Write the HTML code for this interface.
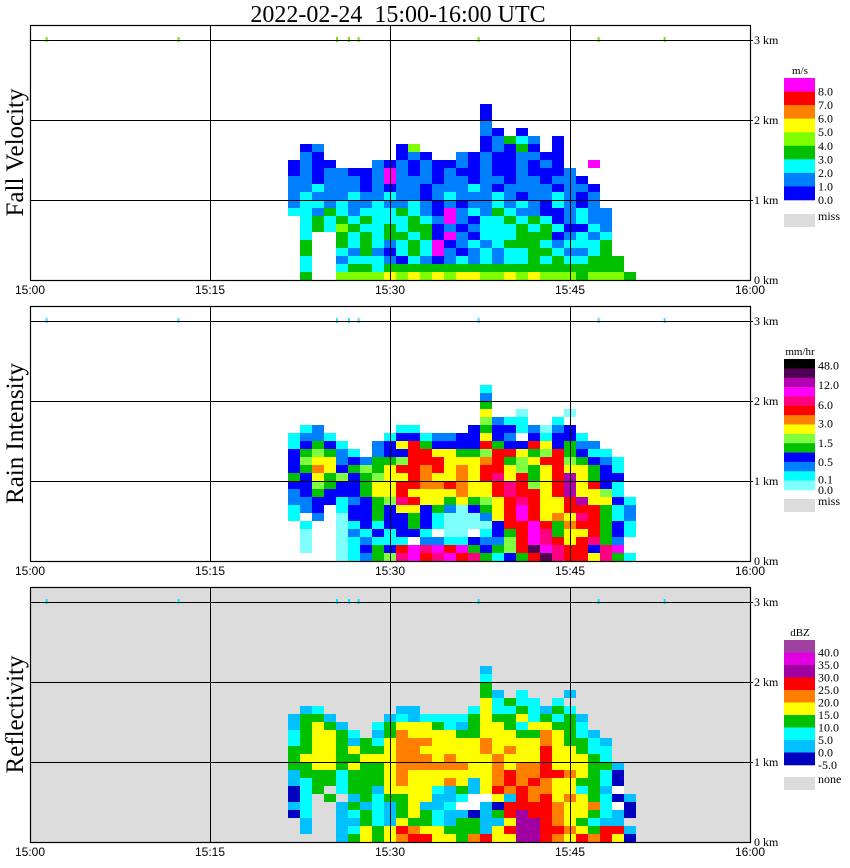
<!DOCTYPE html>
<html><head><meta charset="utf-8"><style>
html,body{margin:0;padding:0;background:#fff;}
svg{display:block;}
text{font-family:"Liberation Serif",serif;fill:#000;}
.sans{font-family:"Liberation Sans",sans-serif;}
</style></head><body>
<svg id="chart" width="850" height="868" viewBox="0 0 850 868" xmlns="http://www.w3.org/2000/svg">
<text x="398" y="22" font-size="24" text-anchor="middle" xml:space="preserve" style="white-space:pre">2022-02-24  15:00-16:00 UTC</text>
<g id="layer"></g>
</svg>
<script>
// ---- data ----
const startMinute = 21.5;        // first data column (minutes after 15:00)
const colMinutes = 1;            // width of one data column (minutes)
const rowKm = 0.1;               // height of one data row (km)
const kmTicks = [0,1,2,3];
const timeTickLabels = ["15:00","15:15","15:30","15:45","16:00"];
const timeTicks = [0,15,30,45,60];
const clutterMinutes = [1.3,12.3,25.5,26.5,27.3,37.3,47.3,52.8];

const fallVelocityRows = [
"                b            ",
"                b            ",
"                a            ",
"                ab b         ",
"                bagca b      ",
" ba      bl     babgb b      ",
" ab      bab  ababbaabb      ",
"babb   abababbababbabab  m   ",
"babaabbamabababbabbabbba     ",
"aabaaabamaaabaabaabaabaab    ",
"aacaaababaabaaacabaaaabaab   ",
"acaaacaacaabacaaacabaacaba   ",
"accacaacaacababaacacabcaba   ",
"ccagcacccgcabmacagcaabbacaa  ",
" cgcgcgcccgcamabccgcgcbacaa  ",
" cgclgccgcggbabacccgcgcbbca  ",
" c  gcgcggcgbmabcccgggbacac  ",
" g  gcgcacgcmbacacgggcacccg  ",
" g  cagabcgcmabacaccggcaacg  ",
" c  acccabcabacacaccgcgccggg ",
" c  cggcgggggggggggggggggggg ",
" g  llllylylylyyllylylllglllg"
];
const rainRows = [
"                c            ",
"                a            ",
"                g            ",
"                y  e   e     ",
"                lacc  c      ",
" ca      cc    bgbbcaeab     ",
"caac    cbbcaabbyba bcbbc    ",
"cbgbc  abyrgbbbbrgbbrybgaa   ",
"bglgac abbrryygglrryglrgbcc  ",
"blyyabagglrrryyyorglyrrlgbac ",
"bgoybglgyrroryoyrrylgyryygbc ",
"gbyglbglyyroyyoyrsyrgyrpygbb ",
"bblgbbgyyrrooroyyrsrlyrpyrbc ",
"abgbbbgyyryyyyoyyrsrryrpyylc ",
"aabbcabglsryygyglyrsryyrpyybc",
"cab cbbgbyybgaebgyrmryyrrrgca",
"c a ebbgbbgbceeeayrmryoysrgca",
" c  ecbcbbgbceeeebrrmrgorrgbc",
" e  eacbcbbc ee cbgrmsgyyrgbc",
" e  ecaccc aaccbaalrmsryrsga ",
" e  ecbgbrmsmrmgbglrdmsrrbsm ",
"    ecaglsmrsmrsgcbgrdsrrysgc"
];
const reflectivityRows = [
"                s            ",
"                c            ",
"                g            ",
"                gs c   s     ",
"                ycgcc c      ",
" sc      ss    cyccgcsgc     ",
"sggs    scsccccgyggycgcgs    ",
"sgygs  cgyyygcsgyygcyyggc    ",
"cgyygc sgoyyyyggyyyggoygcs   ",
"cgyygsgcyoooyyyyoyyyyoyggcs  ",
"ggyygyggyooyyyyyoyoyyryygcc  ",
"gyyyggyyyoooyoyyyoyyyryyygc  ",
"ggyygyggyooooooyyoyooryyyggs ",
"sgggcgggyoyyyyyyyoroorroygcn ",
"scggcgggyoyyyoysyororoyyggcn ",
"ncg cggsyyyycsgsyrorooyycgsw ",
"nc g sgcggyysscwwysroryoygcns",
"sc  sgscsgysscwwsnrrrroyyocwn",
"nc  scgcsgygcssnsgrprroyygcsn",
" s  ssgcsyggcsggssypproygcss ",
" s  scygyroyygggsyrpprroygrrs",
"    sgygyorryygoryypproyroryn"
];

const fvLegendLabels = ["8.0","7.0","6.0","5.0","4.0","3.0","2.0","1.0","0.0"];
const rainLegendLabels = ["48.0","12.0","6.0","3.0","1.5","0.5","0.1","0.0"];
const dbzLegendLabels = ["40.0","35.0","30.0","25.0","20.0","15.0","10.0","5.0","0.0","-5.0"];

// ---- styles ----
const fvColors = {m:"#ff00ff",r:"#ff0000",o:"#ff8000",y:"#ffff00",l:"#80ff00",g:"#00c000",c:"#00ffff",a:"#0080ff",b:"#0000ff"};
const fvLegend = ["#ff00ff","#ff0000","#ff8000","#ffff00","#80ff00","#00c000","#00ffff","#0080ff","#0000ff"];
const rainColors = {k:"#000000",d:"#500050",p:"#b000b0",m:"#ff00ff",s:"#ff0080",r:"#ff0000",o:"#ff8000",y:"#ffff00",l:"#80ff40",g:"#00c000",b:"#0000ff",a:"#0080ff",c:"#00ffff",e:"#80ffff"};
const rainLegend = ["#000000","#500050","#b000b0","#ff00ff","#ff0080","#ff0000","#ff8000","#ffff00","#80ff40","#00c000","#0000ff","#0080ff","#00ffff","#80ffff"];
const dbzColors = {v:"#a040a0",m:"#e000e0",p:"#a000a0",r:"#ff0000",o:"#ff8000",y:"#ffff00",g:"#00c000",c:"#00ffff",s:"#00c0ff",n:"#0000c0",w:"#ffffff"};
const dbzLegend = ["#a040a0","#e000e0","#a000a0","#ff0000","#ff8000","#ffff00","#00c000","#00ffff","#00c0ff","#0000c0"];

const NS="http://www.w3.org/2000/svg";
const layer=document.getElementById('layer');
const X0=30, X1=750;
function xScale(min){return X0+(X1-X0)*min/60;}
function mk(tag,attrs,parent){const e=document.createElementNS(NS,tag);for(const k in attrs)e.setAttribute(k,attrs[k]);(parent||layer).appendChild(e);return e;}

const panels=[
 {name:"fall-velocity",title:"Fall Velocity",top:25,bottom:280,bg:"#ffffff",rows:fallVelocityRows,colors:fvColors,clutter:"#80e000",
  legend:{unit:"m/s",colors:fvLegend,labels:fvLegendLabels,top:78,bottom:200,missTop:214,missLabel:"miss",labelIdx:[1,2,3,4,5,6,7,8,9]}},
 {name:"rain-intensity",title:"Rain Intensity",top:306,bottom:561,bg:"#ffffff",rows:rainRows,colors:rainColors,clutter:"#40e0ff",
  legend:{unit:"mm/hr",colors:rainLegend,labels:rainLegendLabels,top:359,bottom:490,missTop:499,missLabel:"miss",labelIdx:[0.7,2.8,4.9,6.9,9,11,12.9,14]}},
 {name:"reflectivity",title:"Reflectivity",top:587,bottom:842,bg:"#dcdcdc",rows:reflectivityRows,colors:dbzColors,clutter:"#00e0ff",
  legend:{unit:"dBZ",colors:dbzLegend,labels:dbzLegendLabels,top:640,bottom:765,missTop:777,missLabel:"none",labelIdx:[1,2,3,4,5,6,7,8,9,10]}}
];

panels.forEach(p=>{
  const g=mk('g',{});
  
  
  const yScale=km=>p.bottom-80*km;
  const bg=mk('rect',{x:X0,y:p.top,width:X1-X0,height:p.bottom-p.top,fill:p.bg},g);
  
  
  const nRows=p.rows.length;
  p.rows.forEach((row,ri)=>{
    const r=nRows-1-ri;
    for(let ci=0;ci<row.length;ci++){
      const ch=row[ci]; if(ch===' '||!p.colors[ch]) continue;
      const x0=xScale(startMinute+ci*colMinutes), x1=xScale(startMinute+(ci+1)*colMinutes);
      const y0=yScale((r+1)*rowKm), y1=yScale(r*rowKm);
      const c=mk('rect',{x:x0,y:y0,width:x1-x0,height:y1-y0,fill:p.colors[ch]},g);
      
      
    }
  });
  clutterMinutes.forEach(m=>{
    const c=mk('rect',{x:xScale(m),y:yScale(3)-3,width:2,height:5,fill:p.clutter},g);
    
    
  });
  kmTicks.forEach(k=>{
    if(k===0) return;
    const y=yScale(k);
    const l=mk('line',{x1:X0,x2:X1+3,y1:y+0.5,y2:y+0.5,stroke:"#000","stroke-width":1},g);
    
    
  });
  timeTicks.forEach(t=>{
    if(t===0||t===60) return;
    const x=Math.round(xScale(t))+0.5;
    const l=mk('line',{x1:x,x2:x,y1:p.top,y2:p.bottom,stroke:"#000","stroke-width":1},g);
    
    
  });
  const fr=mk('rect',{x:X0+0.5,y:p.top+0.5,width:X1-X0,height:p.bottom-p.top,fill:"none",stroke:"#000","stroke-width":1.2},g);
  
  
  kmTicks.forEach(k=>{
    const t=mk('text',{x:754,y:yScale(k)+4,"font-size":12},g);
    t.textContent=k+" km";
    
    
  });
  timeTicks.forEach((t,i)=>{
    const tx=mk('text',{x:xScale(t),y:p.bottom+14,"font-size":12,"text-anchor":"middle",class:"sans"},g);
    tx.textContent=timeTickLabels[i];
    
    
  });
  const yt=mk('text',{x:0,y:0,"font-size":25,"text-anchor":"middle",transform:`translate(23,${(p.top+p.bottom)/2}) rotate(-90)`},g);
  yt.textContent=p.title;
  
  
  const L=p.legend; const n=L.colors.length; const h=(L.bottom-L.top)/n;
  const lg=mk('g',{},g);
  
  
  const ut=mk('text',{x:800,y:L.top-4,"font-size":11,"text-anchor":"middle"},lg);
  ut.textContent=L.unit;
  
  
  L.colors.forEach((c,i)=>{
    const r=mk('rect',{x:784,y:L.top+i*h,width:31,height:h+0.3,fill:c},lg);
    
    
  });
  L.labels.forEach((s,i)=>{
    const t=mk('text',{x:818,y:L.top+L.labelIdx[i]*h+4,"font-size":12},lg);
    t.textContent=s;
    
    
  });
  const ms=mk('rect',{x:784,y:L.missTop,width:31,height:13,fill:"#dcdcdc"},lg);
  
  
  const mt=mk('text',{x:818,y:L.missTop+6,"font-size":12},lg);
  mt.textContent=L.missLabel;
  
  
});
</script>
</body></html>
